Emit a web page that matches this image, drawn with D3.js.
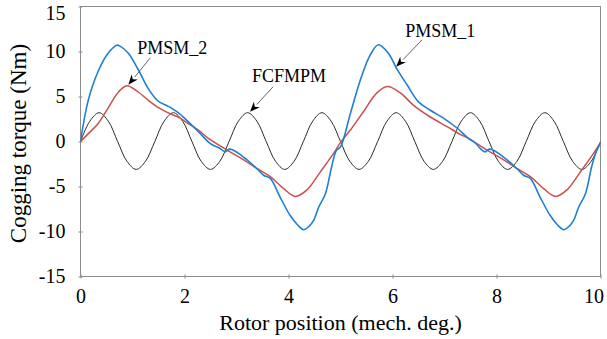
<!DOCTYPE html>
<html>
<head>
<meta charset="utf-8">
<script src="https://cdn.jsdelivr.net/npm/d3@7"></script>
<style>
  html, body { margin: 0; padding: 0; background: #fff; }
  svg text { font-family: "Liberation Serif", "Times New Roman", Tinos, Times, "DejaVu Serif", serif; }
</style>
</head>
<body>
<svg id="chart" width="607" height="339"></svg>
<script>
// Rotor position (mech. deg.) and cogging torque (Nm) of the three machines
const pmsm1X = [0, 0.15, 0.34, 0.53, 0.70, 0.76, 0.92, 1.11, 1.30, 1.49, 1.69, 1.88, 2.07, 2.30, 2.49, 2.69, 2.78, 2.86, 2.91, 3.13, 3.39, 3.52, 3.65, 3.84, 4.03, 4.18, 4.29, 4.40, 4.48, 4.58, 4.71, 4.83, 4.92,
                5.00, 5.19, 5.38, 5.57, 5.73, 5.92, 6.08, 6.28, 6.50, 6.72, 6.98, 7.24, 7.46, 7.60, 7.69, 7.78, 7.86, 7.91, 8.13, 8.39, 8.52, 8.65, 8.84, 9.03, 9.18, 9.29, 9.40, 9.48, 9.58, 9.71, 9.83, 9.92, 10.0];
const pmsm1Y = [0, 4.6, 7.8, 9.8, 10.7, 10.6, 9.8, 8.0, 5.9, 4.5, 3.9, 3.2, 2.2, 0.9, -0.2, -0.8, -1.15, -0.85, -0.9, -1.7, -3.0, -3.75, -4.1, -6.2, -8.2, -9.3, -9.8, -9.4, -8.8, -7.3, -5.8, -2.8, -1.0,
                -0.6, 3.1, 6.8, 9.6, 10.75, 9.8, 8.1, 6.3, 4.4, 3.5, 2.6, 1.5, 0.35, -0.2, -0.8, -1.15, -0.85, -0.9, -1.7, -3.0, -3.75, -4.1, -6.2, -8.2, -9.3, -9.8, -9.4, -8.8, -7.3, -5.8, -2.8, -1.1, -0.2];

const pmsm2X = [0, 0.19, 0.34, 0.53, 0.73, 0.89, 1.11, 1.30, 1.49, 1.72, 1.88, 2.07, 2.26, 2.46, 2.82, 3.10, 3.39, 3.65, 3.90, 4.13, 4.35, 4.61, 4.87, 5.00,
                5.19, 5.44, 5.70, 5.90, 6.15, 6.40, 6.72, 7.05, 7.30, 7.46, 7.82, 8.10, 8.39, 8.65, 8.90, 9.13, 9.35, 9.61, 9.87, 10.0];
const pmsm2Y = [0, 1.1, 2.0, 3.7, 5.5, 6.2, 5.5, 4.6, 3.8, 3.1, 2.7, 2.0, 1.3, 0.35, -0.95, -1.9, -3.0, -3.9, -5.2, -6.1, -5.4, -3.4, -1.3, -0.1,
                1.27, 3.3, 5.4, 6.1, 5.4, 4.05, 2.75, 1.65, 0.8, 0.35, -0.95, -1.9, -3.0, -3.9, -5.2, -6.1, -5.4, -3.4, -1.3, -0.1];

const fcfmpmX = [0, 0.179, 0.357, 0.536, 0.714, 0.893, 1.071, 1.250, 1.429, 1.607, 1.786, 1.964, 2.143, 2.321, 2.500, 2.679, 2.857, 3.036, 3.214, 3.393,
                 3.571, 3.750, 3.929, 4.107, 4.286, 4.464, 4.643, 4.821, 5.000, 5.179, 5.357, 5.536, 5.714, 5.893, 6.071, 6.250, 6.429, 6.607, 6.786,
                 6.964, 7.143, 7.321, 7.500, 7.679, 7.857, 8.036, 8.214, 8.393, 8.571, 8.750, 8.929, 9.107, 9.286, 9.464, 9.643, 9.821, 10.000];
const fcfmpmY = [0, 2.25, 3.2, 2.25, 0, -2.2, -3.1, -2.2, 0, 2.25, 3.2, 2.25, 0, -2.2, -3.1, -2.2, 0, 2.25, 3.2, 2.25,
                 0, -2.2, -3.1, -2.2, 0, 2.25, 3.2, 2.25, 0, -2.2, -3.1, -2.2, 0, 2.25, 3.2, 2.25, 0, -2.2, -3.1,
                 -2.2, 0, 2.25, 3.2, 2.25, 0, -2.2, -3.1, -2.2, 0, 2.25, 3.2, 2.25, 0, -2.2, -3.1, -2.2, 0];

const xTicks = [0, 2, 4, 6, 8, 10];
const yTicks = [-15, -10, -5, 0, 5, 10, 15];

// Callout labels and the curve point each arrow points at
const calloutNames = ["PMSM_2", "FCFMPM", "PMSM_1"];
const calloutX = [0.92, 3.26, 6.07];
const calloutY = [6.3, 3.3, 8.3];

const FONT = '"Liberation Serif", "Times New Roman", Tinos, Times, "DejaVu Serif", serif';
const W = 607;

const svg = d3.select("#chart");
const plot = { left: 80.5, right: 600.5, top: 6.5, bottom: 276.5 };

const x = d3.scaleLinear().domain([0, 10]).range([plot.left, plot.right]);
const y = d3.scaleLinear().domain([-15, 15]).range([plot.bottom, plot.top]);

// plot frame
svg.append("rect")
  .attr("x", plot.left).attr("y", plot.top)
  .attr("width", plot.right - plot.left).attr("height", plot.bottom - plot.top)
  .attr("fill", "none").attr("stroke", "#8c8c8c").attr("stroke-width", 1);

// y axis: ticks crossing the frame, labels on the left
const yAxis = svg.append("g").attr("transform", `translate(${plot.left},0)`)
  .call(d3.axisLeft(y).tickValues(yTicks).tickSizeInner(2).tickSizeOuter(0).tickFormat(d3.format("d")));
yAxis.attr("font-family", FONT);
yAxis.select(".domain").remove();
yAxis.selectAll(".tick line").attr("x1", -2).attr("x2", 2).attr("stroke", "#8c8c8c");
yAxis.selectAll(".tick text")
  .attr("x", -15)
  .attr("font-size", 20)
  .attr("fill", "#000")
  .attr("text-anchor", "end")
  .attr("transform", d => y(d) < 13 ? `translate(0,${13.3 - y(d)})` : null)
  .text(d => String(d));

// x axis
const xAxis = svg.append("g").attr("transform", `translate(0,${plot.bottom})`)
  .call(d3.axisBottom(x).tickValues(xTicks).tickSizeInner(2).tickSizeOuter(0).tickFormat(d3.format("d")));
xAxis.attr("font-family", FONT);
xAxis.select(".domain").remove();
xAxis.selectAll(".tick line").attr("y1", -2).attr("y2", 2).attr("stroke", "#8c8c8c");
xAxis.selectAll(".tick text")
  .attr("y", 12)
  .attr("font-size", 20)
  .attr("fill", "#000");
// keep the last label inside the canvas
xAxis.selectAll(".tick text").each(function () {
  const b = this.getBBox();
  const tr = this.parentNode.transform.baseVal.consolidate();
  const cx = tr ? tr.matrix.e : 0;
  const over = cx + b.x + b.width - (W - 3);
  if (over > 0) d3.select(this).attr("dx", -over);
});

// axis titles, centred on the plot area
svg.append("text")
  .attr("x", (plot.left + plot.right) / 2).attr("y", 330)
  .attr("text-anchor", "middle")
  .attr("font-size", 22)
  .text("Rotor position (mech. deg.)");

svg.append("text")
  .attr("transform", `translate(26,${(plot.top + plot.bottom) / 2 + 2}) rotate(-90)`)
  .attr("text-anchor", "middle")
  .attr("font-size", 23)
  .text("Cogging torque (Nm)");

// curves
const line = d3.line()
  .x(d => x(d[0])).y(d => y(d[1]))
  .curve(d3.curveCatmullRom.alpha(0.5));

const series = [
  { xs: fcfmpmX, ys: fcfmpmY, color: "#2a2a2a", width: 1 },
  { xs: pmsm2X, ys: pmsm2Y, color: "#c9504b", width: 1.5 },
  { xs: pmsm1X, ys: pmsm1Y, color: "#1f7fd3", width: 1.6 }
];

svg.append("clipPath").attr("id", "plotclip")
  .append("rect").attr("x", plot.left).attr("y", plot.top)
  .attr("width", plot.right - plot.left).attr("height", plot.bottom - plot.top);

svg.append("g").attr("clip-path", "url(#plotclip)")
  .selectAll("path")
  .data(series)
  .join("path")
  .attr("d", s => line(s.xs.map((v, i) => [v, s.ys[i]])))
  .attr("fill", "none")
  .attr("stroke", s => s.color)
  .attr("stroke-width", s => s.width)
  .attr("stroke-linejoin", "round");

// callouts: label, thin leader and filled arrowhead
const labelOffset = [[9, -31], [2, -30], [9, -30]];
const leaderStart = [[22, -27], [23, -25], [26, -27]];

calloutNames.forEach((name, i) => {
  const tx = x(calloutX[i]), ty = y(calloutY[i]);
  const sx = tx + leaderStart[i][0], sy = ty + leaderStart[i][1];
  const ang = Math.atan2(ty - sy, tx - sx);
  const len = 10, half = 4;
  const bx = tx - len * Math.cos(ang), by = ty - len * Math.sin(ang);
  const px = -Math.sin(ang) * half, py = Math.cos(ang) * half;

  svg.append("line")
    .attr("x1", sx).attr("y1", sy).attr("x2", bx).attr("y2", by)
    .attr("stroke", "#555").attr("stroke-width", 0.9);
  svg.append("path")
    .attr("d", `M${tx},${ty}L${bx + px},${by + py}L${bx + 3 * Math.cos(ang)},${by + 3 * Math.sin(ang)}L${bx - px},${by - py}Z`)
    .attr("fill", "#000");
  svg.append("text")
    .attr("x", tx + labelOffset[i][0]).attr("y", ty + labelOffset[i][1])
    .attr("font-size", 18)
    .text(name);
});
</script>
</body>
</html>
